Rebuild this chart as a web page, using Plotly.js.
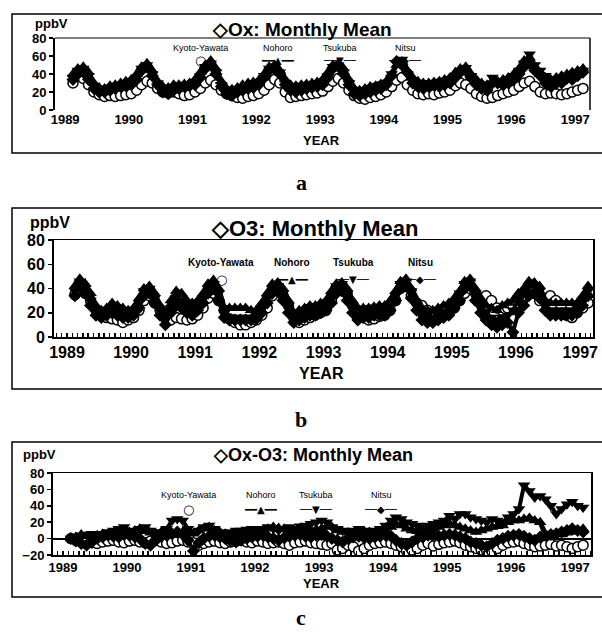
<!DOCTYPE html>
<html><head><meta charset="utf-8">
<script src="https://cdn.plot.ly/plotly-3.0.1.min.js"></script>
<style>html,body{margin:0;padding:0;background:#fff}#chart{width:602px;height:632px}</style>
</head><body><div id="chart"></div>
<script>
// ---------- DATA (monthly means, Feb 1989 .. Feb 1997, 97 months) ----------
const startYear = 1989, startMonth = 2, nMonths = 97;
const stations = ['Kyoto-Yawata', 'Nohoro', 'Tsukuba', 'Nitsu'];
const yearTicks = ['1989','1990','1991','1992','1993','1994','1995','1996','1997'];

// Panel a: Ox
const kyotoOx = [30,38,35,28,20,17,15,16,15,16,17,
 18,22,28,32,30,24,20,19,20,18,16,17,
 20,24,30,33,28,22,18,16,14,13,15,16,
 18,22,28,34,30,20,14,15,16,17,18,19,
 21,26,32,35,30,22,16,13,12,14,15,17,
 20,26,33,36,28,22,18,17,18,17,19,20,
 22,27,30,28,24,18,15,13,14,16,18,20,
 22,26,30,32,26,20,18,19,18,17,18,20,
 22,24];
const nohoroOx = [40,46,48,42,30,25,24,27,28,30,32,
 34,40,48,52,44,32,26,25,28,28,29,30,
 34,42,50,55,46,32,24,23,25,28,30,31,
 33,40,48,50,44,34,28,27,28,29,30,31,
 34,42,50,52,46,34,24,22,24,26,27,29,
 32,40,50,54,44,36,32,30,30,31,32,34,
 36,42,46,48,40,34,30,28,30,32,34,36,
 40,46,55,58,48,40,36,34,36,38,40,42,
 44,46];
const tsukubaOx = [36,44,46,38,26,22,22,25,26,27,28,
 30,36,46,50,40,30,22,20,24,26,27,28,
 30,38,48,52,42,28,20,18,22,24,26,27,
 30,38,46,48,42,30,24,22,25,26,27,28,
 30,38,48,50,42,30,20,18,20,22,24,26,
 30,40,52,56,40,32,28,26,30,30,28,30,
 32,38,44,47,38,30,26,24,36,32,30,32,
 38,44,52,62,50,44,38,30,28,36,34,38,
 42,44];
const nitsuOx = [34,40,42,34,24,20,20,22,24,26,27,
 28,34,44,48,38,28,20,18,22,24,26,27,
 28,36,46,50,40,26,18,16,20,22,24,25,
 28,36,44,46,40,28,22,20,22,24,25,26,
 28,36,46,48,40,28,18,16,18,20,22,24,
 28,38,54,50,42,30,26,24,26,28,26,28,
 30,36,42,44,36,28,24,22,30,30,28,30,
 34,40,48,52,44,38,30,26,34,30,36,34,
 38,42];

// Panel b: O3
const kyotoO3 = [35,40,36,30,22,18,16,15,14,12,14,
 16,22,30,34,28,22,16,14,16,15,14,15,
 18,24,32,36,30,22,15,12,10,10,12,14,
 18,24,34,38,34,26,16,12,14,16,18,20,
 22,30,40,42,36,26,18,16,14,15,17,18,
 22,30,40,42,34,28,26,22,18,17,19,20,
 24,30,36,40,36,32,34,30,24,22,24,26,
 28,32,38,36,30,32,34,30,26,18,16,20,
 24,28];
const nohoroO3 = [42,48,44,36,26,22,24,28,26,24,22,
 24,32,40,42,36,26,18,30,38,36,30,28,
 30,36,44,47,40,24,24,24,24,24,22,22,
 28,36,44,45,40,30,20,22,24,26,26,28,
 30,38,44,45,40,30,24,24,24,25,26,26,
 30,38,46,48,40,30,24,22,22,24,26,28,
 32,38,46,48,40,32,26,24,22,26,28,30,
 36,40,46,45,42,30,28,28,28,28,28,28,
 34,42];
const tsukubaO3 = [38,46,40,30,22,20,22,24,22,20,20,
 22,28,38,40,32,22,14,24,32,30,26,24,
 26,32,40,44,36,20,16,16,16,16,16,18,
 24,32,40,42,36,26,16,18,20,22,22,24,
 26,34,42,44,36,24,18,20,20,22,22,22,
 26,34,44,46,38,26,20,18,16,18,20,24,
 28,36,44,46,36,26,20,16,14,16,18,22,
 30,36,42,42,38,28,22,22,22,22,22,24,
 30,38];
const nitsuO3 = [34,42,36,26,18,16,18,20,18,16,16,
 18,24,34,36,28,18,10,20,26,24,20,18,
 22,28,36,40,30,16,14,14,14,14,14,15,
 20,28,36,38,30,20,12,14,16,18,18,20,
 22,28,36,38,30,20,14,16,16,18,18,18,
 22,30,40,42,32,22,14,12,12,14,16,18,
 24,30,40,42,30,20,14,10,8,10,12,4,
 20,26,34,36,32,22,18,18,18,18,18,20,
 26,34];

// Panel c: Ox - O3
const kyotoDiff = [0,-2,-4,-3,-5,-6,-4,-3,-2,-4,-5,
 -3,-2,-4,-5,-3,-2,-4,-6,-5,-3,-2,-4,
 -5,-8,-6,-4,-3,-5,-6,-4,-3,-2,-4,-5,
 -3,-4,-6,-5,-4,-6,-8,-5,-4,-3,-5,-6,
 -7,-8,-6,-14,-12,-8,-10,-15,-12,-8,-6,-5,
 -4,-6,-8,-10,-15,-14,-12,-8,-6,-9,-7,-5,
 -4,-3,-5,-8,-10,-12,-14,-15,-16,-12,-8,-5,
 -4,-3,-6,-8,-10,-9,-8,-7,-9,-8,-10,-12,
 -10,-8];
const nohoroDiff = [0,2,5,3,2,4,6,5,7,8,6,
 8,10,12,9,7,6,8,5,4,6,8,7,
 6,10,12,14,10,8,6,4,5,6,7,8,
 9,10,12,14,13,12,10,9,11,12,10,11,
 12,15,14,10,8,7,6,8,9,8,7,8,
 10,14,18,16,12,10,9,10,12,12,14,16,
 18,16,14,12,10,8,10,12,14,15,16,20,
 22,22,24,25,22,20,5,4,6,5,7,8,
 10,12];
const tsukubaDiff = [0,2,4,5,6,4,6,8,10,12,14,
 10,8,12,14,10,8,6,12,22,24,22,12,
 8,10,14,16,12,8,6,8,10,10,11,12,
 10,12,14,12,10,12,14,12,15,16,18,20,
 22,20,14,12,10,8,10,12,10,8,10,12,
 16,22,26,24,20,18,16,14,16,18,20,22,
 28,24,30,30,26,24,22,20,24,22,20,26,
 30,36,65,58,50,52,48,40,30,36,42,45,
 40,38];
const nitsuDiff = [0,-3,-6,-8,-4,0,2,4,3,2,5,
 4,2,0,-6,-8,-2,3,4,6,8,5,-2,
 -15,-5,0,3,4,2,0,-3,-4,-2,0,2,
 3,4,2,0,-2,1,3,4,5,3,2,4,
 5,3,0,-2,-4,0,2,3,1,0,2,3,
 4,3,-2,-6,-8,-4,0,2,4,5,3,4,
 5,4,2,0,-4,-6,-8,-10,-6,-2,0,3,
 4,5,3,0,-2,2,4,5,6,8,10,12,
 10,8];

// ---------- month axis ----------
const dates = [];
for (let i = 0; i < nMonths; i++) {
  const m0 = (startMonth - 1) + i;
  const y = startYear + Math.floor(m0 / 12);
  const mo = (m0 % 12) + 1;
  dates.push(y + '-' + String(mo).padStart(2, '0') + '-15');
}
const tickVals = yearTicks.map(y => y + '-01-01');

// ---------- helpers ----------
const W = 602, H = 632;
const px = x => x / W, py = y => 1 - y / H;

function seriesTraces(vals, ax, ay) {
  const [ky, nh, tk, nt] = vals;
  const base = {x: dates, xaxis: ax, yaxis: ay, showlegend: false, hoverinfo: 'skip'};
  return [
    Object.assign({}, base, {y: ky, name: stations[0], mode: 'markers',
      marker: {symbol: 'circle', size: 10, color: '#fff', line: {color: '#000', width: 1.5}}}),
    Object.assign({}, base, {y: nh, name: stations[1], mode: 'lines+markers',
      line: {color: '#000', width: 5}, marker: {symbol: 'triangle-up', size: 11, color: '#000'}}),
    Object.assign({}, base, {y: tk, name: stations[2], mode: 'lines+markers',
      line: {color: '#000', width: 4}, marker: {symbol: 'triangle-down', size: 11, color: '#000'}}),
    Object.assign({}, base, {y: nt, name: stations[3], mode: 'lines+markers',
      line: {color: '#000', width: 4}, marker: {symbol: 'diamond', size: 10, color: '#000'}})
  ];
}

const data = [].concat(
  seriesTraces([kyotoOx, nohoroOx, tsukubaOx, nitsuOx], 'x', 'y'),
  seriesTraces([kyotoO3, nohoroO3, tsukubaO3, nitsuO3], 'x2', 'y2'),
  seriesTraces([kyotoDiff, nohoroDiff, tsukubaDiff, nitsuDiff], 'x3', 'y3')
);

const fA = {family: 'Liberation Sans, Arial, sans-serif', size: 13, color: '#000', weight: 'bold'};
const fB = {family: 'Liberation Sans Narrow, Liberation Sans, Arial, sans-serif', size: 16, color: '#000', weight: 'bold'};
const fC = {family: 'Liberation Sans, Arial, sans-serif', size: 13, color: '#000', weight: 'bold'};

function xax(domain, range, font, opts) {
  return Object.assign({
    type: 'date', domain: domain, range: range, tickvals: tickVals, ticktext: yearTicks,
    tickfont: font, showgrid: false, zeroline: false, ticks: '', ticklen: 0, color: '#000',
    linecolor: '#000', fixedrange: true
  }, opts || {});
}
function yax(domain, range, font, dtick, opts) {
  return Object.assign({
    domain: domain, range: range, dtick: dtick, tickfont: font, showgrid: false,
    zeroline: false, ticks: 'outside', ticklen: 4, tickwidth: 1.5, tickcolor: '#000',
    showline: true, linecolor: '#000', linewidth: 2, color: '#000', fixedrange: true
  }, opts || {});
}

const minorMonthly = {ticks: 'inside', ticklen: 4, tickwidth: 1.5, tickcolor: '#000', dtick: 'M1', showgrid: false};

const layout = {
  width: W, height: H, margin: {l: 0, r: 0, t: 0, b: 0}, paper_bgcolor: '#fff', plot_bgcolor: '#fff',
  showlegend: false,
  xaxis: xax([px(55), px(590)], ['1988-11-04', '1997-03-27'], fA, {anchor: 'y', showline: false}),
  yaxis: yax([py(110), py(38)], [0, 80], fA, 20, {anchor: 'x'}),
  xaxis2: xax([px(54), px(593)], ['1988-10-19', '1997-03-15'], fB,
    {anchor: 'y2', showline: true, mirror: true, linewidth: 1.5, minor: minorMonthly}),
  yaxis2: yax([py(337), py(240)], [0, 80], fB, 20, {anchor: 'x2', mirror: true}),
  xaxis3: xax([px(53), px(591)], ['1988-11-05', '1997-04-01'], fC,
    {anchor: 'y3', showline: true, mirror: true, linewidth: 1.5, minor: minorMonthly}),
  yaxis3: yax([py(555), py(473)], [-20, 80], fC, 20,
    {anchor: 'x3', mirror: true, zeroline: true, zerolinecolor: '#000', zerolinewidth: 2}),
  shapes: [],
  annotations: []
};

// outer frames of the three panels
[[14, 153], [208, 389], [442, 597]].forEach(([t, b]) => {
  layout.shapes.push({type: 'rect', xref: 'paper', yref: 'paper', x0: px(12), x1: 1.02,
    y0: py(b), y1: py(t), line: {color: '#000', width: 1.5}});
});
// panel a: thin top and right plot borders (no bottom axis line)
layout.shapes.push({type: 'line', xref: 'x domain', yref: 'y domain', x0: 0, x1: 1, y0: 1, y1: 1, line: {color: '#000', width: 1}});
layout.shapes.push({type: 'line', xref: 'x domain', yref: 'y domain', x0: 1, x1: 1, y0: 0, y1: 1, line: {color: '#000', width: 1.5}});

function ann(text, x, y, font, extra) {
  layout.annotations.push(Object.assign({text: text, xref: 'paper', yref: 'paper', x: px(x), y: py(y),
    xanchor: 'center', yanchor: 'middle', showarrow: false, font: font}, extra || {}));
}
const serif = {family: 'Liberation Serif, Times New Roman, serif', size: 22, color: '#000', weight: 'bold'};

// panel a texts
ann('\u25C7Ox: Monthly Mean', 302, 29, {family: 'Liberation Sans, Arial, sans-serif', size: 19, color: '#000', weight: 'bold'});
ann('ppbV', 33, 24, fA, {xanchor: 'left'});
ann('YEAR', 322, 141, fA);
ann('a', 301, 182, serif);
// panel b texts
ann('\u25C7O3: Monthly Mean', 314, 229, {family: 'Liberation Sans Narrow, Liberation Sans, Arial, sans-serif', size: 22, color: '#000', weight: 'bold'});
ann('ppbV', 28, 222, fB, {xanchor: 'left'});
ann('YEAR', 322, 373, fB);
ann('b', 301, 419, serif);
// panel c texts
ann('\u25C7Ox-O3: Monthly Mean', 313, 455, {family: 'Liberation Sans, Arial, sans-serif', size: 18, color: '#000', weight: 'bold'});
ann('ppbV', 21, 455, fC, {xanchor: 'left'});
ann('YEAR', 322, 583, fC);
ann('c', 301, 617, serif);

// in-plot legends (label above, symbol below)
const legFont = {family: 'Liberation Sans, Arial, sans-serif', size: 9, color: '#000'};
const legFontB = {family: 'Liberation Sans Narrow, Liberation Sans, Arial, sans-serif', size: 10, color: '#000', weight: 'bold'};
const symFont = {family: 'DejaVu Sans, sans-serif', size: 10, color: '#000'};
const glyphs = ['\u25CB', '\u2501\u2501\u25B2\u2501\u2501', '\u2500\u2500\u25BC\u2500\u2500', '\u2500\u2500\u25C6\u2500\u2500'];
const legends = [
  {txtY: 48, symY: 61, xs: [200, 278, 340, 405], font: legFont},
  {txtY: 262, symY: 279, xs: [221, 292, 353, 420], font: legFontB},
  {txtY: 495, symY: 509, xs: [188, 261, 316, 381], font: legFont}
];
legends.forEach(L => {
  stations.forEach((s, i) => {
    ann(s, L.xs[i], L.txtY, L.font);
    ann(glyphs[i], L.xs[i], L.symY, i === 0 ? {family: 'DejaVu Sans, sans-serif', size: 13, color: '#000'} : symFont);
  });
});

Plotly.newPlot('chart', data, layout, {staticPlot: true, displayModeBar: false});
</script>
</body></html>
